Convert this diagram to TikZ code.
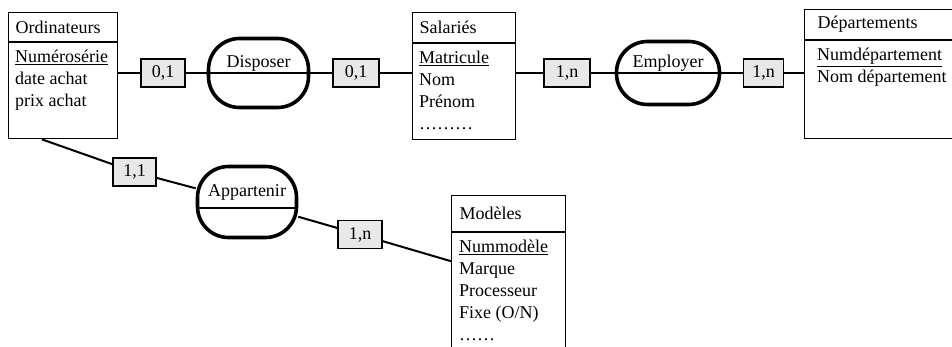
\documentclass[tikz,border=0pt]{standalone}
\usepackage{fontspec}
\setmainfont{Liberation Serif}
\usetikzlibrary{calc, positioning}

\definecolor{cardfill}{RGB}{232, 232, 232}

\newcommand{\ertext}{\fontsize{18}{22}\selectfont}

\tikzset{
    entite/.style={draw, line width=1.2pt, anchor=north west, inner sep=0pt},
    tete/.style={entite, inner xsep=7pt, align=left, font=\ertext},
    attr/.style={anchor=north west, inner sep=0pt, align=left, font=\ertext},
    relation/.style={draw, line width=3.6pt, rounded corners=31pt, inner sep=0pt, text height=5pt, text depth=15pt, font=\ertext},
    card/.style={draw, line width=1.6pt, fill=cardfill, inner sep=0pt, minimum height=28pt, font=\ertext},
    lien/.style={line width=2pt}
}

\begin{document}
\begin{tikzpicture}[x=1pt, y=-1pt]
    \path[use as bounding box] (0, 0) rectangle (952, 347);
    \clip (0, 0) rectangle (952, 347);

    % Entities
    \node[tete, text width=95pt, minimum height=29pt] (ordi) at (8, 12) {Ordinateurs};
    \node[entite, minimum width=109pt, minimum height=96pt] (ordi-b) at (ordi.south west) {};
    \node[attr] (ordi-a) at ($(ordi-b.north west)+(7, 0)$) {\rule{0pt}{20.5pt}\underline{Numérosérie}\\date achat\\prix achat};

    \node[tete, text width=89pt, minimum height=30pt] (sal) at (412, 12) {Salariés};
    \node[entite, minimum width=103pt, minimum height=96pt] (sal-b) at (sal.south west) {};
    \node[attr] (sal-a) at ($(sal-b.north west)+(7, 0)$) {\rule{0pt}{20.5pt}\underline{Matricule}\\Nom\\Prénom\\………};

    \node[tete, inner xsep=13pt, text width=134pt, minimum height=30pt] (dep) at (804, 9) {Départements};
    \node[entite, minimum width=160pt, minimum height=98pt] (dep-b) at (dep.south west) {};
    \node[attr] (dep-a) at ($(dep-b.north west)+(13, 0)$) {\rule{0pt}{20.5pt}\underline{Numdépartement}\\Nom département};

    \node[tete, inner xsep=8pt, text width=98pt, minimum height=36pt] (mod) at (451, 195) {Modèles};
    \node[entite, minimum width=114pt, minimum height=130pt] (mod-b) at (mod.south west) {};
    \node[attr] (mod-a) at ($(mod-b.north west)+(8, 0)$) {\rule{0pt}{20.5pt}\underline{Nummodèle}\\Marque\\Processeur\\Fixe (O/N)\\……};

    % Relations
    \node[relation, minimum width=100pt, minimum height=69pt] (disp) at (258.5, 73) {Disposer};
    \node[relation, minimum width=103pt, minimum height=63pt] (empl) at (668, 73) {Employer};
    \node[relation, minimum width=99pt, minimum height=71pt] (app) at (247, 202) {Appartenir};
    \draw[lien] (disp.west) -- (disp.east);
    \draw[lien] (empl.west) -- (empl.east);
    \draw[line width=1.2pt] ($(app.west)+(3, 6)$) -- ($(app.east)+(-3, 6)$);

    % Cardinalities
    \node[card, minimum width=44pt] (c01a) at (163, 73) {0,1};
    \node[card, minimum width=46pt] (c01b) at (356, 73) {0,1};
    \node[card, minimum width=46pt] (c1na) at (567, 73) {1,n};
    \node[card, minimum width=40pt] (c1nb) at (763.5, 73) {1,n};
    \node[card, minimum width=43pt] (c11) at (134.5, 172) {1,1};
    \node[card, minimum width=44pt] (c1nc) at (360, 234.5) {1,n};

    % Links
    \draw[lien] (c01a -| ordi-b.east) -- (c01a) -- (disp) -- (c01b) -- (c01b -| sal-b.west);
    \draw[lien] (c1na -| sal-b.east) -- (c1na) -- (empl) -- (c1nb) -- (c1nb -| dep-b.west);
    \coordinate (ordi-pt) at ($(ordi-b.south west)+(34, 0)$);
    \draw[lien] (ordi-pt) -- (c11) -- (app);
    \coordinate (mod-pt) at ($(mod-b.north west)+(0, 29)$);
    \draw[lien] (app) -- (c1nc) -- (mod-pt);
\end{tikzpicture}
\end{document}
